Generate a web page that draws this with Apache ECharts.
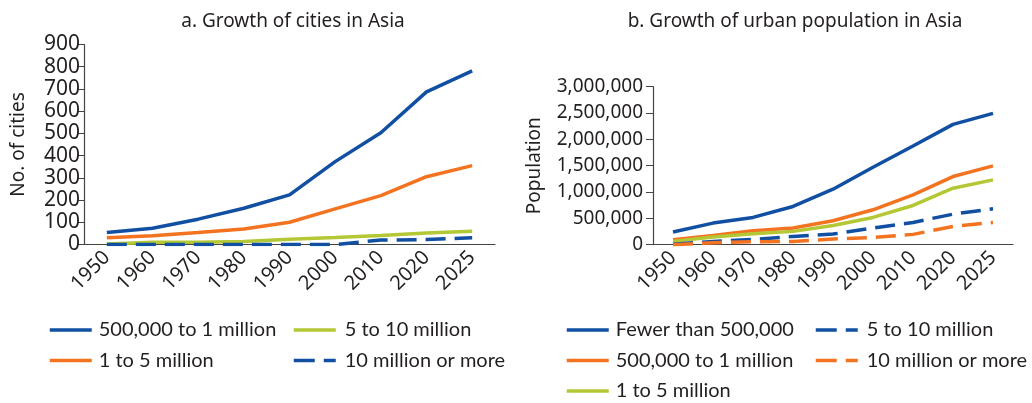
<!DOCTYPE html>
<html>
<head>
<meta charset="utf-8">
<script src="https://cdn.jsdelivr.net/npm/echarts@6/dist/echarts.min.js"></script>
<style>
    html, body {margin: 0; padding: 0; background: #fff;}
    #chart {width: 1032px; height: 403px;}
</style>
</head>
<body>
<div id="chart"></div>
<script>
//---------------------------Data---------------------------
let years = ['1950', '1960', '1970', '1980', '1990', '2000', '2010', '2020', '2025'];

//a. number of cities
let citiesHalfToOne = [54, 73, 114, 163, 223, 373, 503, 687, 781];
let citiesOneToFive = [30, 39, 54, 70, 100, 160, 220, 305, 355];
let citiesFiveToTen = [2, 10, 10, 13, 24, 31, 40, 52, 60];
let citiesTenPlus = [0, 0, 0, 0, 0, 0, 20, 22, 30];

//b. urban population
let popUnderHalf = [240000, 410000, 518000, 726000, 1054000, 1470000, 1875000, 2285000, 2494000];
let popHalfToOne = [95000, 177000, 265000, 316000, 455000, 663000, 947000, 1294000, 1496000];
let popOneToFive = [63000, 145000, 208000, 253000, 366000, 518000, 745000, 1073000, 1231000];
let popFiveToTen = [10000, 63000, 100000, 158000, 202000, 316000, 423000, 580000, 682000];
let popTenPlus = [0, 38000, 57000, 63000, 107000, 139000, 196000, 347000, 423000];

//---------------------------Style---------------------------
let blue = '#114fa3';
let orange = '#f47321';
let green = '#b3c834';
let textColor = '#231f20';
let font = 'Noto Sans';
let legendFont = 'Lato';
let dash = [20, 9];

let chart = echarts.init(document.getElementById('chart'));

function makeSeries(name, data, color, dashed, idx) {
    return {
        name: name,
        type: 'line',
        data: data,
        xAxisIndex: idx,
        yAxisIndex: idx,
        symbol: 'none',
        silent: true,
        animation: false,
        lineStyle: {color: color, width: 3.5, type: dashed ? dash : 'solid'},
        itemStyle: {color: color}
    };
}

//legend icon: line only, hide the symbol
function legendItem(name, color, dashed) {
    return {
        name: name,
        itemStyle: {color: color, opacity: 0},
        lineStyle: {color: color, width: 3.5, type: dashed ? [21, 9] : 'solid'}
    };
}

function makeLegend(left, gap, items) {
    return {
        left: left,
        top: 320,
        height: 90,
        padding: 0,
        orient: 'vertical',
        itemWidth: 42,
        itemHeight: 20,
        itemGap: 10.5,
        selectedMode: false,
        textStyle: {fontFamily: legendFont, fontSize: 20, color: textColor, padding: [0, 0, 0, gap], lineHeight: 20},
        data: items
    };
}

function makeXAxis(idx, size) {
    return {
        type: 'category',
        gridIndex: idx,
        data: years,
        axisLine: {lineStyle: {color: '#444', width: 1.2}},
        axisTick: {length: 8, lineStyle: {color: '#444'}},
        axisLabel: {interval: 0, rotate: 45, margin: 10, fontFamily: font, fontSize: size, color: textColor}
    };
}

function commas(v) {
    return String(v).replace(/\B(?=(\d{3})+(?!\d))/g, ',');
}

let option = {
    backgroundColor: '#fff',
    animation: false,
    title: [
        {text: 'a. Growth of cities in Asia', left: 288, top: 7, textAlign: 'center',
            textStyle: {fontFamily: font, fontSize: 19, fontWeight: 'normal', color: textColor}},
        {text: 'b. Growth of urban population in Asia', left: 790, top: 7, textAlign: 'center',
            textStyle: {fontFamily: font, fontSize: 19, fontWeight: 'normal', color: textColor}}
    ],
    grid: [
        {left: 84, width: 411, top: 44.5, height: 200},
        {left: 653, width: 360, top: 86.7, height: 158}
    ],
    xAxis: [makeXAxis(0, 20), makeXAxis(1, 20)],
    yAxis: [
        {
            type: 'value', gridIndex: 0, min: 0, max: 900, interval: 100,
            name: 'No. of cities', nameLocation: 'middle', nameGap: 56,
            nameTextStyle: {fontFamily: font, fontSize: 19, color: textColor},
            axisLine: {show: true, lineStyle: {color: '#444', width: 1.2}},
            axisTick: {show: true, length: 7, lineStyle: {color: '#444'}},
            splitLine: {show: false},
            axisLabel: {fontFamily: font, fontSize: 21, color: textColor, margin: 4}
        },
        {
            type: 'value', gridIndex: 1, min: 0, max: 3000000, interval: 500000,
            name: 'Population', nameLocation: 'middle', nameGap: 109,
            nameTextStyle: {fontFamily: font, fontSize: 19, color: textColor},
            axisLine: {show: true, lineStyle: {color: '#444', width: 1.2}},
            axisTick: {show: true, length: 7, lineStyle: {color: '#444'}},
            splitLine: {show: false},
            axisLabel: {fontFamily: font, fontSize: 19, color: textColor, margin: 10, formatter: commas}
        }
    ],
    legend: [
        makeLegend(48, 2, [legendItem('500,000 to 1 million', blue, false), legendItem('1 to 5 million', orange, false)]),
        makeLegend(292, 4, [legendItem('5 to 10 million', green, false), legendItem('10 million or more', blue, true)]),
        makeLegend(565, 2, [legendItem('Fewer than 500,000', blue, false), legendItem('500,000 to 1 million', orange, false),
            legendItem('1 to 5 million', green, false)]),
        makeLegend(814, 4, [legendItem('5 to 10 million', blue, true), legendItem('10 million or more', orange, true)])
    ],
    series: [
        makeSeries('500,000 to 1 million', citiesHalfToOne, blue, false, 0),
        makeSeries('1 to 5 million', citiesOneToFive, orange, false, 0),
        makeSeries('5 to 10 million', citiesFiveToTen, green, false, 0),
        makeSeries('10 million or more', citiesTenPlus, blue, true, 0),
        makeSeries('Fewer than 500,000', popUnderHalf, blue, false, 1),
        makeSeries('500,000 to 1 million', popHalfToOne, orange, false, 1),
        makeSeries('1 to 5 million', popOneToFive, green, false, 1),
        makeSeries('5 to 10 million', popFiveToTen, blue, true, 1),
        makeSeries('10 million or more', popTenPlus, orange, true, 1)
    ]
};

chart.setOption(option);
</script>
</body>
</html>
